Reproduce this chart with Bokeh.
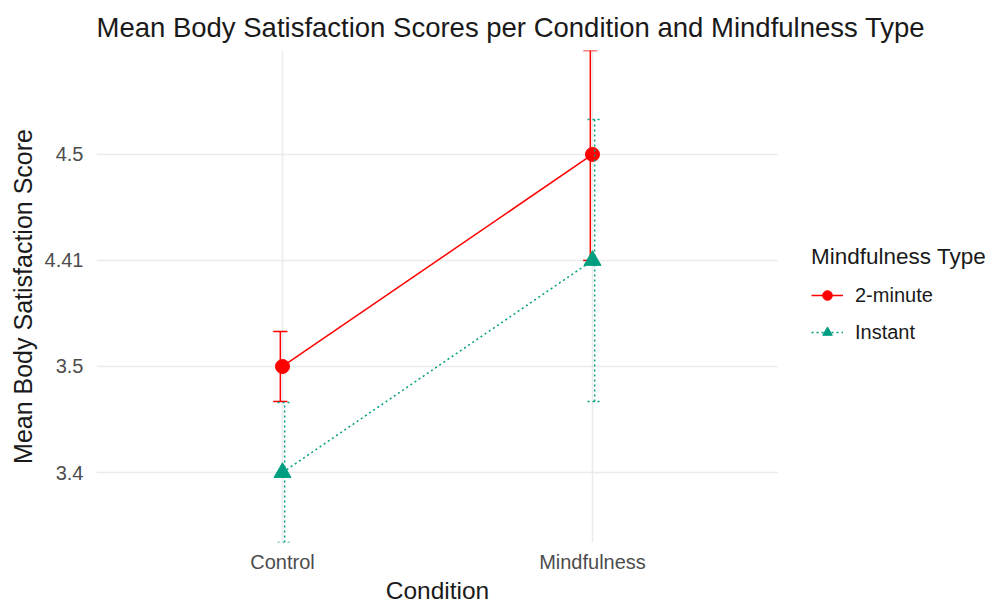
from bokeh.plotting import figure
from bokeh.models import FixedTicker, Legend, LegendItem, Range1d
from bokeh.embed import file_html
from bokeh.resources import INLINE

# ---- data ----
conditions = ["Control", "Mindfulness"]
y_levels = ["3.4", "3.5", "4.41", "4.5"]          # discrete y axis levels (bottom to top)
types = ["2-minute", "Instant"]
means_2min = ["3.5", "4.5"]
means_instant = ["3.4", "4.41"]
# error-bar limits, in positions of the discrete y axis (levels sit at 1..4)
lower_2min = [1.67, 3.0]
upper_2min = [2.33, 4.98]
lower_instant = [0.34, 1.67]
upper_instant = [1.66, 4.33]

# ---- styling ----
RED = "#FF0000"
TEAL = "#009E80"
FONT = "Liberation Sans"
GRID = "#EBEBEB"
DODGE = 0.007
CAP = 0.023

xpos = [conditions.index(c) + 1 for c in conditions]
ypos = {lvl: i + 1 for i, lvl in enumerate(y_levels)}

p = figure(frame_width=682, frame_height=492, output_backend="svg", toolbar_location=None,
           x_range=Range1d(0.4, 2.6), y_range=Range1d(0.34, 4.98),
           min_border_left=96, min_border_top=50, min_border_bottom=55,
           min_border_right=211)
p.outline_line_color = None
p.background_fill_color = "white"
p.border_fill_color = "white"

p.title.text = "Mean Body Satisfaction Scores per Condition and Mindfulness Type"
p.title.text_font = FONT
p.title.text_font_size = "27.5px"
p.title.text_font_style = "normal"
p.title.text_color = "#1a1a1a"
p.title.align = "left"
p.title.offset = 0
p.title.standoff = 16

p.xaxis.ticker = FixedTicker(ticks=xpos)
p.xaxis.major_label_overrides = {x: c for x, c in zip(xpos, conditions)}
p.yaxis.ticker = FixedTicker(ticks=list(ypos.values()))
p.yaxis.major_label_overrides = {v: k for k, v in ypos.items()}
for ax in (p.xaxis, p.yaxis):
    ax.axis_line_color = None
    ax.major_tick_line_color = None
    ax.minor_tick_line_color = None
    ax.major_tick_out = 0
    ax.major_tick_in = 0
    ax.major_label_text_font = FONT
    ax.major_label_text_font_size = "20px"
    ax.major_label_text_color = "#4D4D4D"
    ax.axis_label_text_font = FONT
    ax.axis_label_text_font_style = "normal"
    ax.axis_label_text_color = "#1a1a1a"
p.xaxis.axis_label = "Condition"
p.yaxis.axis_label = "Mean Body Satisfaction Score"
p.xaxis.axis_label_text_font_size = "24.5px"
p.yaxis.axis_label_text_font_size = "25px"
p.xaxis.major_label_standoff = 8
p.xaxis.axis_label_standoff = 1
p.yaxis.major_label_standoff = 13
p.yaxis.axis_label_standoff = 5

p.xgrid.ticker = FixedTicker(ticks=xpos)
p.ygrid.ticker = FixedTicker(ticks=list(ypos.values()))
p.grid.grid_line_color = GRID
p.grid.grid_line_width = 1.5

renderers = {}
series = [
    ("2-minute", means_2min, lower_2min, upper_2min, RED, "solid", "circle", 14, -DODGE),
    ("Instant", means_instant, lower_instant, upper_instant, TEAL, "2 3", "triangle", 17, DODGE),
]
for name, means, lo, hi, col, dash, marker, size, dx in series:
    ys = [ypos[m] for m in means]
    xe = [x + dx for x in xpos]
    p.segment(x0=xe, y0=lo, x1=xe, y1=hi, line_color=col, line_width=1.5, line_dash=dash)
    p.segment(x0=[x - CAP for x in xe], y0=lo, x1=[x + CAP for x in xe], y1=lo,
              line_color=col, line_width=1.5, line_dash=dash)
    p.segment(x0=[x - CAP for x in xe], y0=hi, x1=[x + CAP for x in xe], y1=hi,
              line_color=col, line_width=1.5, line_dash=dash)
    lr = p.line(xpos, ys, line_color=col, line_width=1.5, line_dash=dash)
    sr = p.scatter(xpos, ys, marker=marker, size=size, fill_color=col, line_color=col)
    renderers[name] = [lr, sr]

legend = Legend(items=[LegendItem(label=t, renderers=renderers[t]) for t in types],
                location=(33, 198), orientation="vertical")
legend.title = "Mindfulness Type"
legend.title_text_font = FONT
legend.title_text_font_size = "22.5px"
legend.title_text_font_style = "normal"
legend.title_text_color = "#1a1a1a"
legend.title_standoff = 13
legend.label_text_font = FONT
legend.label_text_font_size = "20px"
legend.label_text_color = "#1a1a1a"
legend.label_standoff = 12
legend.glyph_width = 32
legend.glyph_height = 24
legend.label_height = 24
legend.spacing = 13
legend.padding = 0
legend.margin = 0
legend.border_line_color = None
legend.background_fill_alpha = 0
p.add_layout(legend, "right")

open("out.html", "w").write(file_html(p, INLINE))
